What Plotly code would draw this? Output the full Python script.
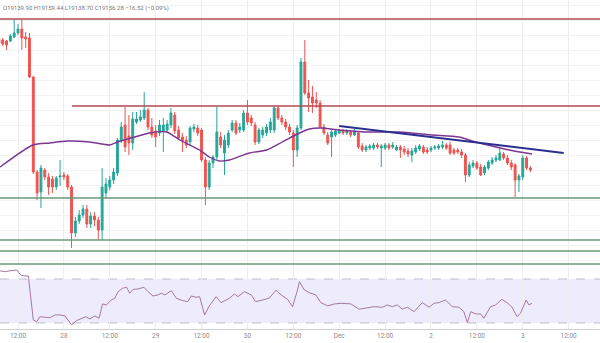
import plotly.graph_objects as go
from datetime import datetime, timedelta

BASE = datetime(2020, 11, 27, 12)
hours = list(range(-5, 135))

opens = [19680,19676,19672,19672,19688,19704,19720,19688,19684,19528,
         19148,19068,19156,19128,19120,19088,19128,19136,19132,19088,
         18904,18952,18976,19000,18940,18972,18956,18916,19064,19088,
         19116,19144,19272,19336,19292,19264,19348,19356,19364,19396,
         19328,19312,19304,19312,19316,19336,19376,19316,19288,19276,
         19268,19320,19324,19316,19196,19088,19184,19208,19288,19224,
         19256,19316,19344,19316,19316,19384,19364,19336,19268,19296,
         19304,19316,19316,19404,19364,19348,19328,19304,19236,19324,
         19588,19464,19448,19436,19424,19328,19296,19288,19296,19304,
         19312,19304,19308,19296,19304,19252,19236,19244,19244,19256,
         19244,19244,19256,19248,19236,19248,19240,19232,19216,19228,
         19240,19248,19236,19236,19244,19244,19248,19256,19256,19236,
         19236,19228,19216,19136,19172,19184,19168,19144,19164,19184,
         19196,19196,19220,19204,19184,19176,19116,19128,19204,19164]
highs = [19688,19684,19676,19700,19756,19740,19756,19708,19704,19532,
         19156,19176,19164,19144,19132,19132,19196,19148,19140,19096,
         18968,18996,19016,19016,18988,18988,18968,19164,19124,19132,
         19164,19284,19348,19408,19376,19388,19388,19396,19468,19404,
         19364,19336,19356,19364,19356,19404,19388,19332,19304,19292,
         19332,19340,19336,19324,19208,19196,19216,19408,19308,19296,
         19316,19356,19356,19344,19396,19436,19376,19348,19324,19328,
         19340,19364,19412,19412,19376,19360,19340,19316,19336,19604,
         19676,19516,19492,19468,19436,19340,19308,19316,19320,19320,
         19320,19320,19316,19320,19312,19264,19256,19260,19264,19264,
         19260,19264,19264,19268,19256,19256,19252,19244,19244,19256,
         19260,19256,19248,19252,19256,19260,19272,19264,19268,19244,
         19244,19240,19224,19188,19196,19192,19180,19176,19196,19208,
         19216,19244,19228,19216,19196,19184,19140,19216,19212,19172]
lows = [19656,19652,19636,19668,19684,19696,19636,19644,19524,19140,
        19036,19004,19116,19056,19064,19076,19092,19116,19076,18844,
        18888,18940,18964,18924,18924,18932,18876,18876,19044,19076,
        19100,19132,19264,19228,19216,19236,19340,19348,19356,19316,
        19284,19248,19292,19228,19304,19324,19300,19276,19228,19244,
        19256,19308,19292,19188,19016,19076,19164,19196,19244,19136,
        19244,19308,19296,19304,19308,19336,19332,19256,19260,19284,
        19292,19304,19304,19356,19336,19316,19296,19168,19208,19316,
        19456,19388,19384,19404,19324,19296,19256,19208,19288,19300,
        19296,19296,19288,19292,19240,19228,19228,19236,19236,19240,
        19168,19236,19236,19240,19232,19204,19216,19208,19188,19220,
        19232,19220,19220,19228,19236,19236,19240,19236,19216,19216,
        19220,19204,19108,19128,19164,19156,19132,19136,19156,19176,
        19188,19192,19196,19176,19156,19048,19068,19116,19156,19148]
closes = [19664,19660,19656,19692,19704,19720,19684,19680,19528,19148,
          19064,19164,19128,19088,19088,19124,19132,19128,19088,18904,
          18952,18976,19000,18940,18972,18956,18916,19088,19100,19116,
          19148,19276,19328,19248,19264,19360,19360,19368,19396,19328,
          19296,19288,19336,19336,19340,19384,19312,19284,19272,19256,
          19324,19328,19304,19196,19088,19184,19208,19308,19256,19276,
          19304,19344,19304,19328,19384,19348,19344,19268,19316,19316,
          19328,19348,19404,19364,19348,19328,19308,19236,19324,19588,
          19464,19444,19424,19424,19328,19304,19264,19308,19312,19312,
          19304,19312,19296,19308,19248,19236,19248,19252,19256,19248,
          19252,19256,19244,19256,19248,19236,19228,19220,19232,19244,
          19252,19228,19228,19244,19248,19252,19256,19244,19224,19224,
          19228,19216,19136,19176,19184,19164,19136,19168,19188,19196,
          19204,19224,19204,19184,19168,19116,19132,19204,19164,19156]

ma_hours = [-4.7, 3.9, 8.3, 12.8, 18.8, 24, 26, 30.5, 34.4, 38.9, 42.3, 47.5, 50, 52.7,
            55.3, 60.5, 65, 69.1, 73.6, 76.2, 79.3, 84, 91, 99.7, 108.3, 115.3, 119.7,
            125, 128.4, 134.4]
ma_values = [19168, 19256, 19264, 19272, 19268, 19256, 19268, 19288, 19304, 19308, 19276,
             19236, 19208, 19192, 19196, 19224, 19236, 19268, 19304, 19320, 19324, 19316,
             19308, 19308, 19296, 19288, 19268, 19248, 19236, 19220]

trend_hours = [84.0, 142.7]
trend_values = [19332, 19224]

rsi_hours = [-4.7,-3.4,-2.1,-0.3,0.7,1.8,2.7,4.0,4.9,5.7,7.0,8.3,9.7,11.0,12.3,14.0,15.3,16.6,
             17.7,18.8,20.1,21.2,22.1,23.1,24.4,25.3,26.2,27.3,28.4,29.2,30.1,31.4,32.9,34.0,
             35.3,36.6,37.5,38.4,40.1,41.4,43.1,44.4,45.3,46.6,47.5,48.8,49.9,51.8,53.1,55.3,
             56.6,57.5,59.2,61.0,62.1,64.0,65.7,67.5,68.8,70.5,71.8,73.1,73.6,74.9,76.2,77.9,
             79.2,81.0,82.7,84.5,87.1,89.2,91.0,93.1,95.3,96.6,97.9,99.2,100.5,101.8,103.6,
             105.7,107.5,108.8,110.1,111.8,113.6,115.3,116.6,117.5,118.4,119.7,121.0,121.8,
             123.6,124.9,126.5,127.9,129.2,130.5,131.4,132.9,133.6,134.4]
rsi_values = [77.5,76.6,77.5,78.2,73.6,72.7,72.7,32.7,31.2,35.7,35.2,34.8,37.3,37.3,36.4,28.2,
              32.1,34.3,35.7,33.6,36.4,34.3,47.3,46.4,50.9,52.5,58.5,61.5,62.5,57.0,60.6,60.9,
              62.5,58.5,54.5,55.5,57.0,55.5,59.4,52.5,50.3,49.4,54.5,53.4,53.9,37.3,44.8,53.9,
              48.5,52.5,56.4,53.9,58.5,55.5,49.4,50.9,52.5,60.0,55.5,51.5,44.8,60.0,67.5,60.0,
              57.5,55.5,48.5,45.5,47.3,47.9,47.3,42.5,43.4,44.8,44.3,46.4,44.8,46.4,42.5,44.3,
              40.3,48.5,44.3,47.9,48.5,50.9,44.8,44.3,40.3,30.3,40.3,38.2,38.2,34.3,44.8,46.4,
              51.5,48.5,44.3,35.7,38.8,50.9,46.4,47.9]

resistance_levels = [19760]
resistance_partial = (14.1, 19412)
support_levels = [19044, 18876, 18832, 18780]

tick_hours = list(range(0, 145, 12))
tick_text = ["12:00", "28", "12:00", "29", "12:00", "30", "12:00", "Dec", "12:00", "2", "12:00", "3", "12:00"]

header = "O19139.90 H19159.44 L19138.70 C19156.28 \u221216.52 (\u22120.09%)"


def t(h):
    return BASE + timedelta(hours=h)


times = [t(h) for h in hours]
x_range = [t(-4.71), t(152.2)]
GREEN = "#26a69a"
RED = "#ef5350"

fig = go.Figure()
fig.add_trace(go.Candlestick(
    x=times, open=opens, high=highs, low=lows, close=closes,
    increasing=dict(line=dict(color=GREEN, width=1), fillcolor=GREEN),
    decreasing=dict(line=dict(color=RED, width=1), fillcolor=RED),
    whiskerwidth=0, xaxis="x", yaxis="y", hoverinfo="skip"))
fig.add_trace(go.Scatter(x=[t(h) for h in ma_hours], y=ma_values, mode="lines",
                         line=dict(color="#7b3593", width=1.4, shape="spline", smoothing=0.6),
                         xaxis="x", yaxis="y", hoverinfo="skip"))
fig.add_trace(go.Scatter(x=[t(h) for h in trend_hours], y=trend_values, mode="lines",
                         line=dict(color="#2b2f8f", width=2), xaxis="x", yaxis="y", hoverinfo="skip"))
fig.add_trace(go.Scatter(x=[t(h) for h in rsi_hours], y=rsi_values, mode="lines",
                         line=dict(color="#a5789f", width=1), xaxis="x2", yaxis="y2", hoverinfo="skip"))

shapes = []
shapes.append(dict(type="rect", xref="paper", x0=0, x1=1, yref="y2", y0=30, y1=70,
                   fillcolor="rgba(125,105,235,0.13)", line=dict(width=0), layer="below"))
for lv in (30, 70):
    shapes.append(dict(type="line", xref="paper", x0=0, x1=1, yref="y2", y0=lv, y1=lv,
                       line=dict(color="#aeb0c6", width=0.8, dash="dash"), layer="below"))
for lv in resistance_levels:
    shapes.append(dict(type="line", xref="paper", x0=0, x1=1, yref="y", y0=lv, y1=lv,
                       line=dict(color="#b04a50", width=1.5)))
shapes.append(dict(type="line", xref="x", x0=t(resistance_partial[0]), x1=x_range[1], yref="y",
                   y0=resistance_partial[1], y1=resistance_partial[1],
                   line=dict(color="#b04a50", width=1.5)))
for lv in support_levels:
    shapes.append(dict(type="line", xref="paper", x0=0, x1=1, yref="y", y0=lv, y1=lv,
                       line=dict(color="#6a9a78", width=1.3)))

fig.update_layout(
    width=600, height=343,
    margin=dict(l=0, r=0, t=0, b=14),
    paper_bgcolor="white", plot_bgcolor="white",
    showlegend=False,
    shapes=shapes,
    xaxis=dict(domain=[0, 1], anchor="y", type="date", range=x_range,
               tickvals=[t(h) for h in tick_hours], showticklabels=False,
               showgrid=True, gridcolor="#eeeeee", gridwidth=1, zeroline=False, showline=False,
               rangeslider=dict(visible=False), fixedrange=True),
    yaxis=dict(domain=[0.1915, 1], range=[18772, 19836], showticklabels=False,
               showgrid=True, gridcolor="#f3f3f3", tick0=19816, dtick=60, zeroline=False),
    xaxis2=dict(domain=[0, 1], anchor="y2", type="date", range=x_range, matches="x",
                tickvals=[t(h) for h in tick_hours], ticktext=tick_text,
                tickfont=dict(size=6.5, color="#8a8a8a", family="Roboto"),
                showgrid=True, gridcolor="#eeeeee", showline=True, linecolor="#cfcfcf",
                linewidth=1, ticks="", zeroline=False),
    yaxis2=dict(domain=[0, 0.1884], range=[24.5, 80.9], showticklabels=False,
                showgrid=False, zeroline=False),
    annotations=[dict(text=header, xref="paper", yref="paper", x=0, y=1, xanchor="left",
                      yanchor="top", xshift=1, yshift=-2, showarrow=False,
                      font=dict(size=6, color="#7a7a7a", family="Roboto"))],
)

fig.write_html("out.html")
